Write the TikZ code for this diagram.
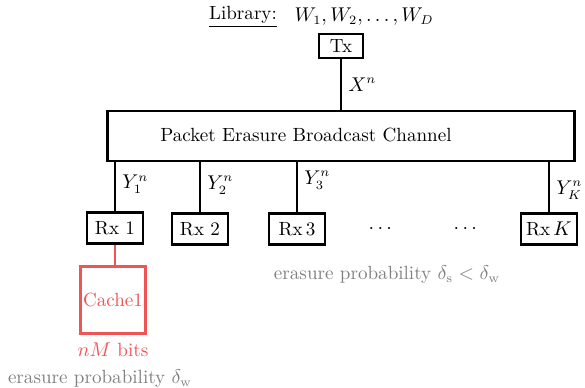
\documentclass[tikz,border=0pt]{standalone}
\usepackage{amsmath}
\usetikzlibrary{positioning}
\definecolor{cachered}{RGB}{240,85,85}
\definecolor{probgray}{RGB}{128,128,128}

\begin{document}
\begin{tikzpicture}[x=0.55pt,y=-0.55pt,
  every node/.style={font=\fontsize{10.5}{12}\selectfont},
  blk/.style={draw,line width=1.4pt,inner sep=0pt},
  rxbox/.style={blk,minimum width=31pt,minimum height=17pt},
  lnk/.style={line width=1.4pt}]
  \useasboundingbox (0,0) rectangle (585,388);
  % transmitter side
  \node (lib) at (243,17) {\underline{Library:}};
  \node (files) at (364,17) {$W_1,W_2,\ldots,W_D$};
  \node[blk,minimum width=24pt,minimum height=13pt] (tx) at (341,46) {Tx};
  \node[blk,minimum width=257pt,minimum height=27.5pt] (bc) at (341,136) {};
  \node (bclabel) at (306,135) {Packet Erasure Broadcast Channel};
  \draw[lnk] (tx) -- (tx |- bc.north) node[midway,right] {$X^n$};
  % receivers
  \node[rxbox] (rx1) at (115,228) {Rx 1};
  \node[rxbox] (rx2) at (200,229) {Rx 2};
  \node[rxbox] (rx3) at (297,229) {Rx\,3};
  \node[rxbox] (rxk) at (549,229) {Rx\,$K$};
  \node (dots1) at (382,229) {$\cdots$};
  \node (dots2) at (467,229) {$\cdots$};
  \draw[lnk] (rx1) -- (rx1 |- bc.south) node[pos=0.55,right] {$Y_1^n$};
  \draw[lnk] (rx2) -- (rx2 |- bc.south) node[pos=0.55,right] {$Y_2^n$};
  \draw[lnk] (rx3) -- (rx3 |- bc.south) node[pos=0.65,right] {$Y_3^n$};
  \draw[lnk] (rxk) -- (rxk |- bc.south) node[pos=0.45,right] {$Y_K^n$};
  % cache at the weak receiver
  \node[blk,draw=cachered,text=cachered,minimum width=36pt,minimum height=37pt] (cache) at (113,300) {Cache1};
  \draw[cachered,line width=0.8pt] (rx1) -- (rx1 |- cache.north);
  \node[text=cachered] (size) at (113,350) {$nM$ bits};
  \node[text=probgray] (probw) at (100,379) {erasure probability $\delta_{\mathrm{w}}$};
  \node[text=probgray] (probs) at (387,275) {erasure probability $\delta_{\mathrm{s}}<\delta_{\mathrm{w}}$};
\end{tikzpicture}
\end{document}
